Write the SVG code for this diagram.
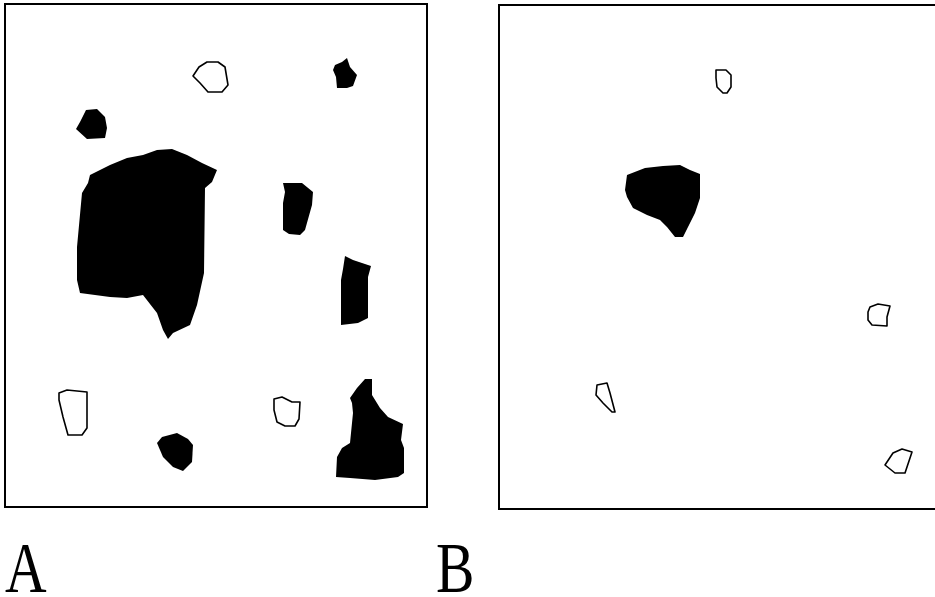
<svg xmlns="http://www.w3.org/2000/svg" width="935" height="597" viewBox="0 0 935 597">
<style>
.frame{fill:none;stroke:#000;stroke-width:2}
.solid{fill:#000;stroke:none}
.hollow{fill:#fff;stroke:#000;stroke-width:1.6;stroke-linejoin:round}
.lbl{font-family:"Liberation Serif",serif;font-size:72px;fill:#000}
</style>
<rect width="935" height="597" fill="#fff"/>
<g id="panelA">
<rect class="frame" x="5" y="4" width="422" height="503"/>
<polygon class="hollow" points="193,76 199,67 207,62 218,62 225,67 228,85 222,92 208,92 200,83"/>
<polygon class="solid" points="333,70 335,65 342,62 347,58 350,67 357,75 353,86 347,88 337,88 336,77"/>
<polygon class="solid" points="76,129 80,122 86,110 97,109 105,117 107,128 105,138 87,139"/>
<polygon class="solid" points="90,175 110,165 127,158 143,155 157,150 172,149 187,155 202,163 217,170 212,182 205,188 204,273 197,305 190,325 173,333 168,339 163,330 157,313 143,295 127,298 110,297 80,293 77,280 77,247 82,193 88,183"/>
<polygon class="solid" points="283,183 302,183 313,192 312,205 305,230 300,235 289,234 283,230 283,203 285,192"/>
<polygon class="solid" points="345,256 353,260 371,266 368,277 368,318 358,323 341,325 341,280 343,269"/>
<polygon class="hollow" points="59,393 67,390 87,392 87,428 82,435 68,435 63,417 59,400"/>
<polygon class="solid" points="157,443 162,437 177,433 188,439 193,445 192,462 183,471 173,467 163,457"/>
<polygon class="hollow" points="274,399 282,397 292,402 300,402 299,419 295,426 285,426 277,422 274,410"/>
<polygon class="solid" points="350,398 357,388 365,379 372,379 372,395 380,408 388,417 403,424 401,440 404,448 404,473 398,477 375,480 350,478 336,477 337,457 342,448 350,443 353,413 352,403"/>
<text class="lbl" transform="translate(5,592) scale(0.8,1)" x="0" y="0">A</text>
</g>
<g id="panelB">
<polyline class="frame" points="940,5 499,5 499,509 940,509"/>
<polygon class="hollow" points="716,70 726,70 731,75 731,87 727,93 723,93 717,87 716,78"/>
<polygon class="solid" points="627,175 645,168 663,166 680,165 690,170 700,174 700,198 695,213 688,227 683,237 675,237 667,227 660,220 647,215 633,208 627,197 625,190"/>
<polygon class="hollow" points="870,307 878,304 890,306 887,317 887,326 872,325 868,320 868,312"/>
<polygon class="hollow" points="597,385 607,383 610,393 615,412 612,412 603,403 596,395"/>
<polygon class="hollow" points="885,465 893,453 902,449 912,452 905,473 895,473"/>
<text class="lbl" transform="translate(436,592) scale(0.8,1)" x="0" y="0">B</text>
</g>
</svg>
